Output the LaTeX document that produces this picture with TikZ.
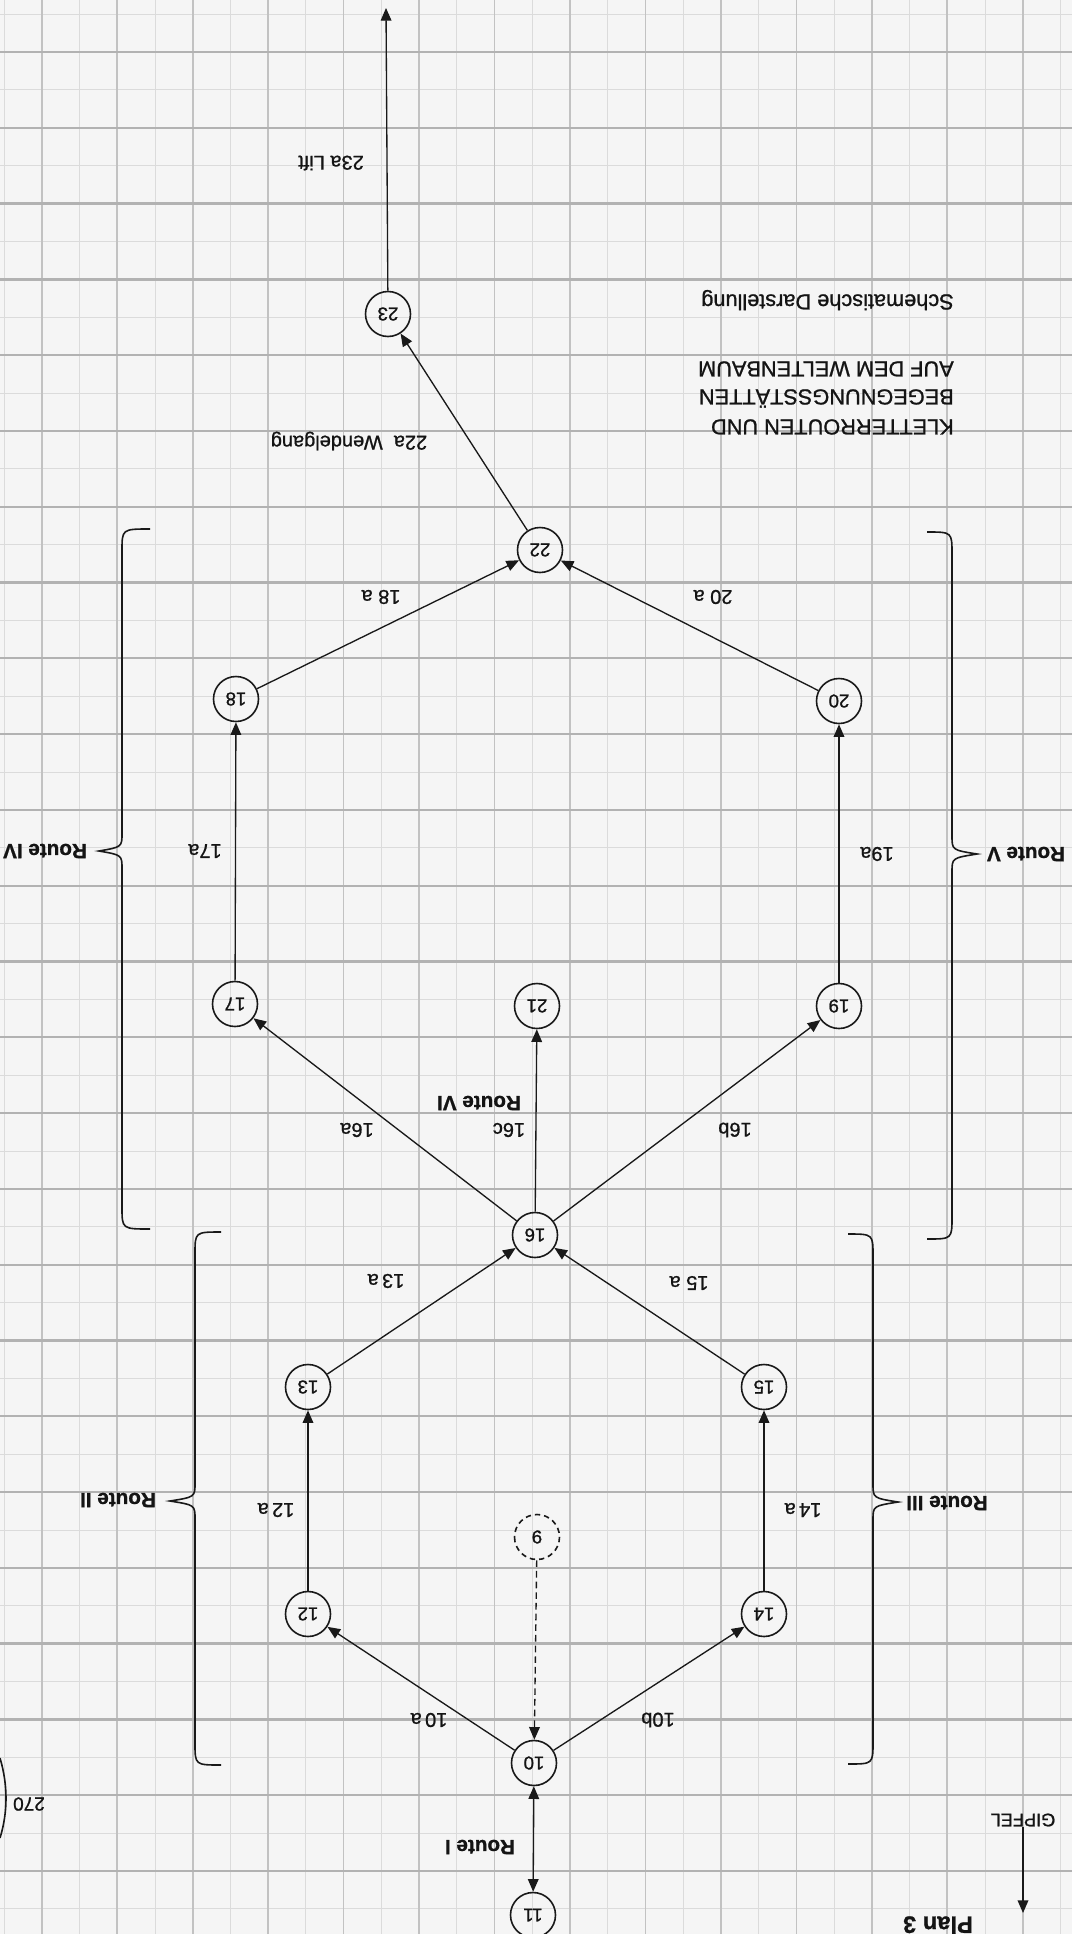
\documentclass[tikz,border=0pt]{standalone}
\usepackage{fontspec}
\setmainfont{Liberation Sans}[FakeBold=1]
\usetikzlibrary{arrows.meta}
% brace: #1 end x, #2 back x, #3 tip x, #4 top y, #5 tip y, #6 bottom y
\newcommand\drawroutebrace[6]{%
  \draw[bracestyle] (#1,#4) .. controls (#2,#4) .. (#2,#4+22) -- (#2,#5-18)
    .. controls (#2,#5-4) .. (#3,#5) .. controls (#2,#5+4) .. (#2,#5+18)
    -- (#2,#6-22) .. controls (#2,#6) .. (#1,#6);}
\begin{document}
\begin{tikzpicture}[x=0.75pt,y=-0.75pt,
  >={Triangle[length=9.5pt,width=8pt]},
  every node/.style={inner sep=0pt, text=black!92},
  station/.style={draw=black!90, circle, minimum size=33.75pt, line width=1.2pt,
    rotate=180, font=\fontsize{14pt}{16pt}\selectfont},
  ghost/.style={station, dash pattern=on 4pt off 3pt},
  conn/.style={draw=black!90, line width=1pt, ->},
  dconn/.style={conn, dash pattern=on 5pt off 3pt},
  elabel/.style={rotate=180, font=\fontsize{15pt}{17pt}\selectfont},
  rlabel/.style={rotate=180, font=\bfseries\fontsize{15.5pt}{18pt}\selectfont},
  tlabel/.style={rotate=180, font=\fontsize{16.3pt}{19pt}\selectfont, anchor=mid west},
  bracestyle/.style={draw=black!90, line width=1.2pt},
  gridvdark/.style={draw=black!24, line width=1.3pt},
  gridhdark/.style={draw=black!30, line width=1.7pt},
  gridlight/.style={draw=black!14, line width=0.6pt},
]
\useasboundingbox (0,0) rectangle (1072,1934);
\clip (0,0) rectangle (1072,1934);
\fill[black!4] (0,0) rectangle (1072,1934);

% graph paper
\foreach \k in {-1,...,13} {\pgfmathsetmacro\xx{41.7+37.74+75.47*\k}
  \draw[gridlight] (\xx,0) -- (\xx,1934);}
\foreach \k in {-1,...,24} {\pgfmathsetmacro\yy{52+37.9+75.79*\k}
  \draw[gridlight] (0,\yy) -- (1072,\yy);}
\foreach \k in {0,...,13} {\pgfmathsetmacro\xx{41.7+75.47*\k}
  \draw[gridvdark] (\xx,0) -- (\xx,1934);}
\foreach \k in {0,...,24} {\pgfmathsetmacro\yy{52+75.79*\k}
  \draw[gridhdark] (0,\yy) -- (1072,\yy);}

% stations
\node[station] (n11) at (533,1915) {11};
\node[station] (n10) at (534,1763) {10};
\node[station] (n12) at (308,1614) {12};
\node[station] (n14) at (764,1614) {14};
\node[ghost]   (n9)  at (537,1537) {9};
\node[station] (n13) at (308,1387) {13};
\node[station] (n15) at (764,1387) {15};
\node[station] (n16) at (535,1235) {16};
\node[station] (n17) at (235,1004) {17};
\node[station] (n21) at (537,1006) {21};
\node[station] (n19) at (839,1006) {19};
\node[station] (n18) at (236,699) {18};
\node[station] (n20) at (839,701) {20};
\node[station] (n22) at (540,550) {22};
\node[station] (n23) at (388,314) {23};
\coordinate (lifttop) at (386,8);

% connectors
\draw[conn,<->] (n10) -- (n11);
\draw[dconn] (n9) -- (n10);
\draw[conn] (n10) -- (n12);
\draw[conn] (n10) -- (n14);
\draw[conn] (n12) -- (n13);
\draw[conn] (n14) -- (n15);
\draw[conn] (n13) -- (n16);
\draw[conn] (n15) -- (n16);
\draw[conn] (n16) -- (n17);
\draw[conn] (n16) -- (n21);
\draw[conn] (n16) -- (n19);
\draw[conn] (n17) -- (n18);
\draw[conn] (n19) -- (n20);
\draw[conn] (n18) -- (n22);
\draw[conn] (n20) -- (n22);
\draw[conn] (n22) -- (n23);
\draw[conn] (n23) -- (lifttop);

% connector labels
\node[rlabel] (lR1) at (480,1847) {Route I};
\node[elabel] (l10a) at (429,1720) {10\,a};
\node[elabel] (l10b) at (658,1720) {10b};
\node[elabel] (l12a) at (276,1510) {12\,a};
\node[elabel] (l14a) at (803,1510) {14\,a};
\node[elabel] (l13a) at (386,1281) {13\,a};
\node[elabel] (l15a) at (689,1283) {15 a};
\node[elabel] (l16a) at (357,1130) {16a};
\node[elabel] (l16c) at (509,1130) {16c};
\node[elabel] (l16b) at (735,1130) {16b};
\node[rlabel] (lR6) at (479,1103) {Route VI};
\node[elabel] (l17a) at (205,851) {17a};
\node[elabel] (l19a) at (877,854) {19a};
\node[elabel] (l18a) at (381,597) {18 a};
\node[elabel] (l20a) at (713,597) {20 a};
\node[elabel] (l22a) at (349,441) {22a\ \ Wendelgang};
\node[elabel] (l23a) at (331,163) {23a Lift};

% braces and route names
\drawroutebrace{221}{195}{170}{1232}{1501}{1765}
\drawroutebrace{848}{873}{898}{1234}{1502}{1764}
\drawroutebrace{150}{122}{99}{529}{851}{1229}
\drawroutebrace{927}{952}{977}{532}{854}{1239}
\node[rlabel] (lR2) at (118,1500) {Route II};
\node[rlabel] (lR3) at (947,1503) {Route III};
\node[rlabel] (lR4) at (45,851) {Route IV};
\node[rlabel] (lR5) at (1026,854) {Route V};

% titles
\node[tlabel] (t1) at (954,423) {KLETTERROUTEN UND};
\node[tlabel] (t2) at (954,393) {BEGEGNUNGSSTÄTTEN};
\node[tlabel] (t3) at (954,365) {AUF DEM WELTENBAUM};
\node[tlabel] (t4) at (954,298) {Schematische Darstellung};

% page corner
\node[rotate=180, font=\fontsize{13.65pt}{16pt}\selectfont] (gipfel) at (1023,1820) {GIPFEL};
\coordinate (gipfelend) at (1023,1913);
\draw[conn] (gipfel) -- (gipfelend);
\node[rotate=180, font=\bfseries\fontsize{17.8pt}{20pt}\selectfont] (plan) at (938,1925) {Plan 3};
\node[rotate=180, font=\fontsize{14.25pt}{16pt}\selectfont] (page) at (29,1804) {270};
\draw[bracestyle] (0,1758) .. controls (8,1785) and (8,1812) .. (0,1838);
\end{tikzpicture}
\end{document}
